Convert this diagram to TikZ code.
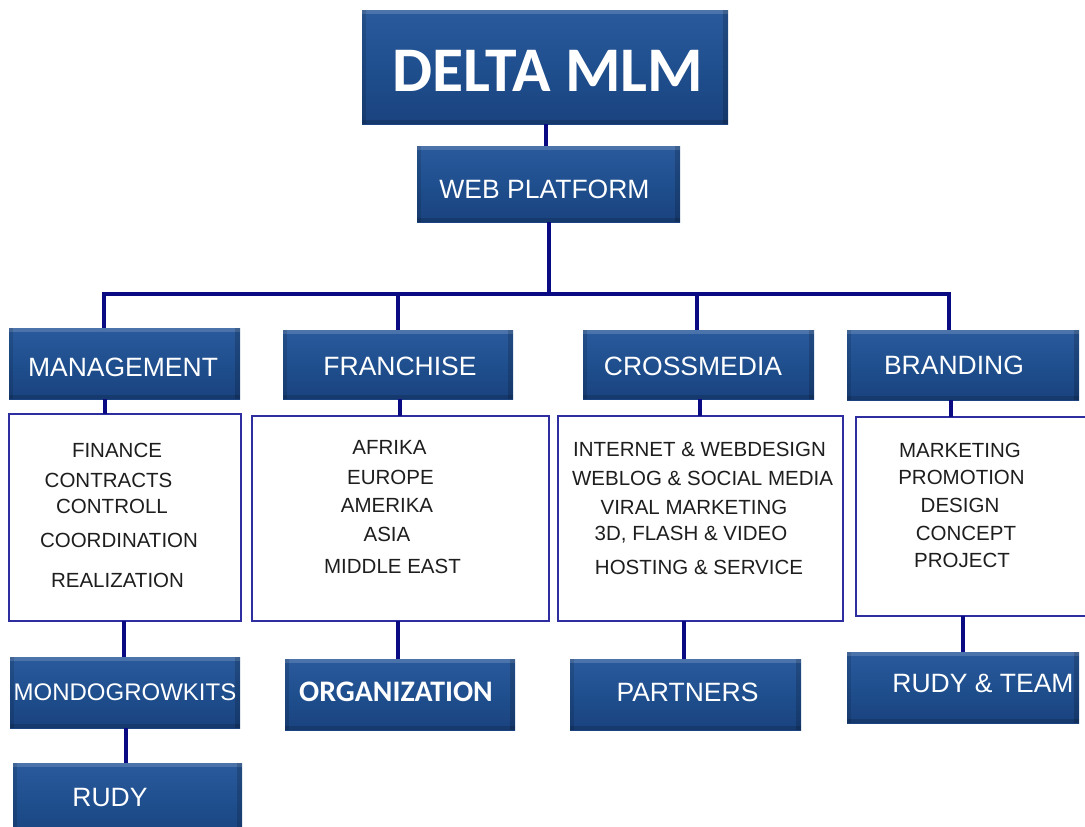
\documentclass[tikz,border=0pt]{standalone}
\usepackage{fontspec}
\setmainfont{Liberation Sans}
\newfontfamily\calib{Carlito}
\definecolor{boxtop}{HTML}{2A5A9C}
\definecolor{boxmid}{HTML}{1F4F8E}
\definecolor{boxbot}{HTML}{1A437F}
\definecolor{navy}{HTML}{0A0A82}
\definecolor{framec}{HTML}{2E2EA0}
\definecolor{ink}{HTML}{1E1E1E}
\tikzset{
  bluebox/.style={draw=none, top color=boxtop, bottom color=boxbot, middle color=boxmid,
    inner sep=0pt, outer sep=0pt,
    path picture={
      \fill[white,opacity=0.16] (path picture bounding box.north west) rectangle ([yshift=-4pt]path picture bounding box.north east);
      \fill[black,opacity=0.16] ([xshift=-5pt]path picture bounding box.north east) rectangle (path picture bounding box.south east);
      \fill[black,opacity=0.12] (path picture bounding box.north west) rectangle ([xshift=4pt]path picture bounding box.south west);
      \fill[black,opacity=0.14] (path picture bounding box.south west) rectangle ([yshift=4pt]path picture bounding box.south east);
    }},
  listbox/.style={draw=framec, line width=1.4pt, fill=white, inner sep=0pt, outer sep=0pt},
  head/.style={text=white, anchor=base, inner sep=0pt, font=\fontsize{26.5}{30}\selectfont},
  item/.style={text=ink, anchor=base, inner sep=0pt, font=\fontsize{20.5}{24}\selectfont},
  conn/.style={draw=navy, line width=3.5pt},
}
\begin{document}
\begin{tikzpicture}[x=1pt,y=-1pt]
\useasboundingbox (0,0) rectangle (1085,827);
% blue boxes
\node[bluebox, minimum width=366pt, minimum height=114pt] (delta) at (545,67) {};
\node[bluebox, minimum width=263pt, minimum height=76pt] (web) at (548.5,184) {};
\node[bluebox, minimum width=231pt, minimum height=71pt] (man) at (124.5,363.5) {};
\node[bluebox, minimum width=230pt, minimum height=69pt] (fra) at (398,364.5) {};
\node[bluebox, minimum width=231pt, minimum height=69pt] (cro) at (698.5,364.5) {};
\node[bluebox, minimum width=232pt, minimum height=70pt] (bra) at (963,365) {};
\node[bluebox, minimum width=230pt, minimum height=71pt] (mon) at (125,692.5) {};
\node[bluebox, minimum width=230pt, minimum height=71pt] (org) at (400,694.5) {};
\node[bluebox, minimum width=231pt, minimum height=71pt] (par) at (685.5,694.5) {};
\node[bluebox, minimum width=232pt, minimum height=71pt] (rt) at (963,687.5) {};
\node[bluebox, minimum width=229pt, minimum height=77pt] (rudy) at (127.5,801.5) {};
% list boxes
\node[listbox, minimum width=232pt, minimum height=207pt] (manl) at (125,517.5) {};
\node[listbox, minimum width=297pt, minimum height=205pt] (fral) at (400.5,518.5) {};
\node[listbox, minimum width=285pt, minimum height=205pt] (crol) at (700.5,518.5) {};
\node[listbox, minimum width=236pt, minimum height=199pt] (bral) at (974,516.5) {};
% connector coordinates
\coordinate (k0) at (546,0);
\coordinate (bus) at (549,294);
\coordinate (bm) at (104,294);
\coordinate (bf) at (398,294);
\coordinate (bc) at (697,294);
\coordinate (bb) at (949,294);
\coordinate (v1) at (105,0);
\coordinate (v2) at (400,0);
\coordinate (v3) at (700,0);
\coordinate (v4) at (951,0);
\coordinate (w1) at (124,0);
\coordinate (w2) at (398,0);
\coordinate (w3) at (684,0);
\coordinate (w4) at (963,0);
\coordinate (w5) at (126,0);
% connectors
\draw[conn] (k0 |- delta.south) -- (k0 |- web.north);
\draw[conn] (bus |- web.south) -- (bus);
\draw[conn] (bm |- man.north) -- (bm) -- (bb) -- (bb |- bra.north);
\draw[conn] (bf) -- (bf |- fra.north);
\draw[conn] (bc) -- (bc |- cro.north);
\draw[conn] (v1 |- man.south) -- (v1 |- manl.north);
\draw[conn] (v2 |- fra.south) -- (v2 |- fral.north);
\draw[conn] (v3 |- cro.south) -- (v3 |- crol.north);
\draw[conn] (v4 |- bra.south) -- (v4 |- bral.north);
\draw[conn] (w1 |- manl.south) -- (w1 |- mon.north);
\draw[conn] (w2 |- fral.south) -- (w2 |- org.north);
\draw[conn] (w3 |- crol.south) -- (w3 |- par.north);
\draw[conn] (w4 |- bral.south) -- (w4 |- rt.north);
\draw[conn] (w5 |- mon.south) -- (w5 |- rudy.north);
% headings
\node[head, font=\calib\bfseries\fontsize{63.6}{70}\selectfont] (tdelta) at (548,91.5) {DELTA MLM};
\node[head] (tweb) at (544.5,198.5) {WEB PLATFORM};
\node[head] (tman) at (123,376.5) {MANAGEMENT};
\node[head] (tfra) at (400,375.5) {FRANCHISE};
\node[head] (tcro) at (693,375.5) {CROSSMEDIA};
\node[head] (tbra) at (954,374.5) {BRANDING};
\node[head, font=\fontsize{24}{28}\selectfont] (tmon) at (125,700.6) {MONDOGROWKITS};
\node[head, font=\calib\bfseries\fontsize{29.8}{34}\selectfont] (torg) at (396,701.6) {ORGANIZATION};
\node[head] (tpar) at (687.5,701.5) {PARTNERS};
\node[head] (trt) at (983,692.5) {RUDY \& TEAM};
\node[head] (trudy) at (110,806.5) {RUDY};
% management items
\node[item] (m1) at (117,457.3) {FINANCE};
\node[item] (m2) at (108.5,487.3) {CONTRACTS};
\node[item] (m3) at (112,513.3) {CONTROLL};
\node[item] (m4) at (119,547.3) {COORDINATION};
\node[item] (m5) at (117.5,587.3) {REALIZATION};
% franchise items
\node[item] (f1) at (389.5,454.3) {AFRIKA};
\node[item] (f2) at (390.5,484.3) {EUROPE};
\node[item] (f3) at (387,512.3) {AMERIKA};
\node[item] (f4) at (387,541.3) {ASIA};
\node[item] (f5) at (392.5,573.3) {MIDDLE EAST};
% crossmedia items
\node[item] (c1) at (699.5,456.3) {INTERNET \& WEBDESIGN};
\node[item] (c2) at (702.5,485.3) {WEBLOG \& SOCIAL MEDIA};
\node[item] (c3) at (694,514.3) {VIRAL MARKETING};
\node[item] (c4) at (691,540.3) {3D, FLASH \& VIDEO};
\node[item] (c5) at (699,574.3) {HOSTING \& SERVICE};
% branding items
\node[item] (r1) at (960,457.3) {MARKETING};
\node[item] (r2) at (961.5,484.3) {PROMOTION};
\node[item] (r3) at (960,512.3) {DESIGN};
\node[item] (r4) at (966,540.3) {CONCEPT};
\node[item] (r5) at (962,567.3) {PROJECT};
\end{tikzpicture}
\end{document}
